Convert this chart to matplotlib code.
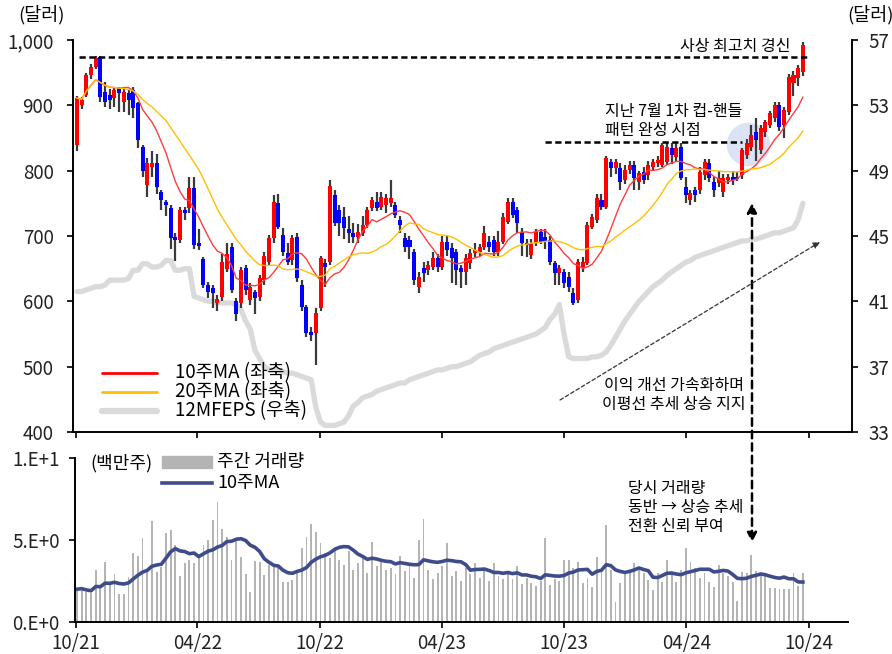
import numpy as np
import pandas as pd
import matplotlib
matplotlib.use('Agg')
import matplotlib.pyplot as plt
import matplotlib.dates as mdates
from matplotlib.patches import ConnectionPatch, Rectangle
from matplotlib.lines import Line2D

plt.rcParams['font.family'] = ['Noto Sans CJK KR', 'DejaVu Sans']
plt.rcParams['axes.unicode_minus'] = False

# weekly price (USD), 10/21 ~ 10/24
open_ = [
    839, 900, 916, 946, 959, 974, 920, 916, 911, 926,
    905, 919, 923, 903, 836, 778, 806, 812, 767, 752,
    743, 699, 694, 740, 743, 773, 690, 665, 625, 620,
    598, 607, 650, 683, 600, 597, 651, 602, 614, 607,
    633, 660, 697, 750, 701, 674, 663, 699, 625, 591,
    553, 551, 590, 659, 660, 763, 740, 729, 711, 705,
    699, 705, 717, 743, 752, 745, 748, 750, 747, 724,
    697, 694, 676, 622, 651, 648, 653, 666, 653, 691,
    682, 676, 651, 645, 659, 674, 675, 683, 691, 694,
    675, 691, 722, 752, 740, 706, 689, 671, 689, 706,
    699, 694, 659, 643, 645, 637, 613, 602, 653, 659,
    714, 724, 755, 745, 813, 804, 804, 786, 801, 809,
    783, 798, 793, 806, 812, 809, 813, 834, 821, 836,
    775, 755, 770, 770, 793, 812, 783, 781, 767, 786,
    790, 790, 793, 824, 836, 859, 832, 859, 870, 880,
    900, 870, 890, 934, 942, 951]

high = [
    915, 912, 950, 963, 975, 976, 935, 925, 928, 928,
    925, 925, 928, 905, 840, 820, 830, 825, 770, 755,
    748, 705, 745, 745, 790, 790, 710, 668, 630, 625,
    610, 672, 690, 690, 605, 652, 655, 628, 618, 640,
    675, 702, 762, 765, 712, 690, 702, 705, 632, 595,
    560, 590, 670, 665, 785, 770, 748, 745, 730, 720,
    718, 730, 745, 760, 768, 768, 765, 785, 752, 730,
    705, 700, 680, 645, 660, 662, 675, 672, 700, 700,
    690, 680, 655, 672, 680, 690, 688, 715, 700, 700,
    708, 735, 758, 758, 745, 712, 695, 695, 710, 710,
    710, 700, 662, 655, 650, 645, 620, 665, 668, 722,
    733, 765, 765, 822, 818, 818, 812, 808, 815, 815,
    800, 805, 815, 818, 822, 842, 842, 842, 842, 842,
    790, 770, 775, 805, 818, 818, 790, 800, 795, 795,
    800, 798, 835, 848, 870, 880, 870, 878, 892, 905,
    905, 898, 948, 952, 962, 997]

low = [
    830, 895, 912, 940, 955, 905, 898, 895, 898, 890,
    890, 885, 880, 835, 790, 760, 790, 765, 740, 730,
    680, 662, 690, 725, 735, 680, 678, 620, 605, 590,
    585, 600, 645, 612, 570, 590, 610, 595, 580, 600,
    625, 655, 690, 710, 670, 655, 655, 630, 585, 545,
    540, 503, 585, 622, 655, 715, 700, 695, 690, 690,
    690, 700, 712, 738, 738, 740, 735, 745, 728, 705,
    675, 665, 625, 612, 630, 640, 648, 645, 648, 670,
    628, 625, 620, 625, 650, 668, 670, 678, 675, 670,
    670, 688, 718, 728, 705, 670, 668, 665, 685, 688,
    680, 655, 625, 625, 620, 615, 595, 598, 645, 655,
    710, 720, 740, 742, 790, 795, 770, 780, 795, 770,
    770, 780, 785, 800, 805, 805, 808, 810, 815, 785,
    750, 748, 752, 765, 785, 782, 760, 775, 760, 780,
    778, 784, 788, 818, 830, 815, 825, 852, 865, 875,
    860, 850, 885, 915, 930, 945]

close = [
    911, 908, 946, 959, 972, 913, 905, 908, 923, 919,
    920, 908, 896, 847, 800, 812, 812, 775, 755, 747,
    697, 694, 740, 735, 773, 686, 685, 625, 614, 612,
    604, 660, 672, 617, 580, 648, 617, 622, 605, 636,
    670, 697, 752, 714, 676, 660, 697, 636, 591, 551,
    548, 582, 666, 653, 776, 720, 720, 712, 705, 699,
    706, 717, 740, 755, 743, 760, 758, 758, 732, 717,
    683, 683, 633, 637, 643, 656, 666, 653, 691, 679,
    666, 648, 645, 666, 674, 679, 683, 705, 683, 675,
    691, 729, 752, 732, 720, 689, 686, 689, 706, 691,
    691, 660, 643, 651, 628, 622, 597, 660, 660, 717,
    729, 758, 745, 819, 804, 813, 783, 801, 809, 789,
    796, 786, 809, 813, 816, 839, 836, 824, 834, 789,
    763, 766, 763, 798, 813, 789, 770, 789, 789, 790,
    786, 788, 832, 842, 855, 847, 865, 874, 888, 900,
    867, 893, 943, 946, 957, 992]

# 12M forward EPS (USD, right axis)
eps = [
    41.6, 41.6, 41.7, 41.8, 41.9, 41.9, 42.0, 42.3, 42.3, 42.3,
    42.3, 42.4, 42.9, 42.9, 43.3, 43.3, 43.1, 43.1, 43.2, 43.5,
    43.5, 42.9, 42.9, 43.0, 43.0, 41.3, 41.2, 41.1, 41.0, 41.0,
    40.9, 40.9, 40.9, 40.9, 40.8, 40.5, 39.8, 39.3, 38.0, 37.5,
    37.0, 36.8, 36.8, 36.7, 36.7, 36.6, 36.6, 36.5, 36.4, 36.3,
    36.2, 34.5, 33.6, 33.4, 33.4, 33.4, 33.5, 33.6, 34.0, 34.6,
    34.8, 35.1, 35.2, 35.3, 35.5, 35.6, 35.7, 35.8, 35.9, 36.0,
    36.0, 36.2, 36.3, 36.4, 36.5, 36.6, 36.7, 36.8, 36.8, 36.9,
    37.0, 37.0, 37.1, 37.2, 37.3, 37.5, 37.7, 37.8, 37.9, 38.1,
    38.2, 38.3, 38.4, 38.5, 38.6, 38.7, 38.8, 38.9, 39.0, 39.2,
    39.4, 39.9, 40.2, 40.8, 39.0, 37.6, 37.5, 37.5, 37.5, 37.5,
    37.6, 37.6, 37.7, 37.9, 38.3, 38.8, 39.3, 39.8, 40.2, 40.6,
    41.0, 41.3, 41.6, 41.9, 42.1, 42.3, 42.6, 42.8, 43.0, 43.2,
    43.4, 43.5, 43.7, 43.8, 43.9, 44.0, 44.1, 44.2, 44.3, 44.4,
    44.5, 44.6, 44.7, 44.7, 44.8, 44.8, 44.9, 45.0, 45.1, 45.2,
    45.2, 45.3, 45.4, 45.5, 46.0, 47.0]

# weekly volume (million shares)
volume = [
    2.0, 2.07, 1.8, 1.75, 3.2, 2.1, 3.65, 2.3, 2.9, 1.7,
    1.7, 2.75, 4.2, 4.0, 5.1, 3.2, 6.15, 3.05, 3.35, 5.4,
    5.6, 4.7, 2.8, 3.6, 3.8, 3.6, 4.0, 4.7, 5.0, 6.2,
    7.3, 5.65, 5.2, 3.8, 5.0, 3.95, 2.9, 1.85, 3.7, 3.65,
    2.85, 3.5, 3.4, 3.3, 2.45, 2.45, 2.55, 3.0, 4.5, 5.2,
    6.0, 5.5, 4.8, 4.2, 3.9, 4.6, 3.8, 3.5, 4.3, 3.2,
    3.6, 4.1, 3.0, 4.9, 3.4, 3.8, 3.2, 3.3, 2.9, 4.0,
    3.1, 3.6, 2.7, 5.0, 6.3, 3.2, 2.6, 3.0, 3.4, 4.8,
    2.8, 3.1, 2.5, 3.3, 2.9, 3.6, 2.7, 3.2, 2.5, 3.6,
    2.8, 2.6, 3.0, 2.6, 3.4, 2.3, 2.7, 2.4, 2.2, 2.5,
    5.1, 2.25, 2.6, 2.5, 3.8, 3.8, 3.3, 3.65, 2.4, 2.7,
    2.15, 3.95, 3.3, 5.9, 3.2, 1.2, 2.4, 3.05, 3.0, 3.6,
    3.35, 3.0, 2.55, 1.95, 3.0, 2.45, 3.8, 3.1, 2.45, 3.2,
    4.5, 3.65, 3.3, 2.7, 3.0, 2.45, 2.15, 3.5, 3.0, 2.8,
    2.45, 1.3, 3.05, 3.0, 4.1, 3.1, 3.0, 3.0, 2.1, 2.05,
    2.0, 2.0, 2.0, 3.0, 2.2, 3.0]

W, H = 892, 654
dates = pd.date_range('2021-10-03', periods=len(close), freq='7D')
x = mdates.date2num(dates)
x0 = x[0]


def px2num(px):
    return x0 + (px - 77) / 4.683 * 7


def val(py):
    return 1000 - (py - 40) / 392 * 600


fig = plt.figure(figsize=(W / 100, H / 100), dpi=100)
ax = fig.add_axes([73 / W, 1 - 432 / H, 779 / W, 392 / H])
axr = ax.twinx()
ax2 = fig.add_axes([75 / W, 1 - 622 / H, 773 / W, 164 / H])

# EPS behind price
axr.plot(x, eps, color='#dadada', lw=3.8, solid_capstyle='round', solid_joinstyle='round')
axr.set_ylim(33, 57)
axr.set_yticks(np.arange(33, 58, 4))
ax.set_zorder(axr.get_zorder() + 1)
ax.patch.set_visible(False)

o = np.array(open_, float)
c = np.array(close, float)
h = np.array(high, float)
l = np.array(low, float)
cols = np.where(c >= o, '#ff0000', '#0000ff')

ax.scatter([px2num(748)], [val(144)], s=980, color='#dde3f7', zorder=1, linewidths=0)
ax.vlines(x, l, h, color='#3a3a3a', lw=1.6, zorder=2)
ax.bar(x, np.maximum(np.abs(c - o), 2.5), bottom=np.minimum(o, c), width=6.0,
       color=cols, linewidth=0, zorder=3)

s = pd.Series(c)
ax.plot(x, s.rolling(10, min_periods=1).mean(), color='#ff3c3c', lw=1, zorder=4)
ax.plot(x, s.rolling(20, min_periods=1).mean(), color='#ffc000', lw=1, zorder=4)

ax.set_ylim(400, 1000)
ax.set_yticks(np.arange(400, 1001, 100))
ax.yaxis.set_major_formatter(matplotlib.ticker.StrMethodFormatter('{x:,.0f}'))
ax.set_xlim(px2num(73), px2num(852))

# volume panel
ax2.bar(x, volume, width=2.8, color='#b4b4b4', linewidth=0)
ax2.plot(x, pd.Series(volume).rolling(10, min_periods=1).mean(), color='#3e4c8c', lw=2.6)
ax2.set_ylim(0, 10)
ax2.set_yticks([0, 5, 10])
ax2.set_yticklabels(['0.E+0', '5.E+0', '1.E+1'])
ax2.set_xlim(px2num(75), px2num(848))

for a in (ax, ax2):
    a.xaxis.set_major_locator(mdates.MonthLocator(bymonth=[4, 10]))
    a.xaxis.set_major_formatter(mdates.DateFormatter('%m/%y'))
    a.spines['top'].set_visible(False)
    a.spines['right'].set_visible(False)
    a.spines['left'].set_linewidth(1.4)
    a.spines['bottom'].set_linewidth(1.4)
    a.tick_params(direction='out', length=4, width=1.4, labelsize=13.5, colors='#222222')
ax.tick_params(axis='y', pad=10)
ax2.tick_params(axis='y', pad=7)
ax2.tick_params(axis='x', pad=4)
ax.tick_params(axis='x', labelbottom=False)
for side in ('top', 'left', 'bottom'):
    axr.spines[side].set_visible(False)
axr.spines['right'].set_linewidth(1.4)
axr.tick_params(direction='out', length=4, width=1.4, labelsize=13.5, pad=8, colors='#222222')

# annotations
dash = (0, (2.5, 1.4))
fs = 11.5
ax.plot([px2num(79), px2num(808)], [974, 974], color='black', lw=1.8, ls=dash, zorder=5)
ax.plot([px2num(545), px2num(742)], [val(142)] * 2, color='black', lw=1.8, ls=dash, zorder=5)
ax.text(px2num(790), val(47), '사상 최고치 경신', ha='right', va='center', fontsize=fs,
        fontweight='medium')
ax.text(px2num(605), val(121), '지난 7월 1차 컵-핸들\n패턴 완성 시점', ha='left', va='center',
        fontsize=fs, linespacing=1.15, fontweight='medium')
ax.text(px2num(674), val(395), '이익 개선 가속화하며\n이평선 추세 상승 지지', ha='center', va='center',
        fontsize=fs, linespacing=1.2, fontweight='medium')
ax.annotate('', xy=(px2num(820), val(242)), xytext=(px2num(560), val(400)),
            arrowprops=dict(arrowstyle='-|>', color='#333333', lw=0.9, linestyle=(0, (3, 2)),
                            mutation_scale=10, shrinkA=0, shrinkB=0),
            annotation_clip=False)
ax2.text(px2num(628), 7.0, '당시 거래량\n동반 → 상승 추세\n전환 신뢰 부여', ha='left', va='center',
         fontsize=fs, linespacing=1.15, fontweight='medium')

con = ConnectionPatch(xyA=(px2num(752), val(203)), coordsA=ax.transData,
                      xyB=(px2num(752), 4.85), coordsB=ax2.transData,
                      arrowstyle='<|-|>', linestyle=(0, (3, 2)), lw=1.8, color='black',
                      mutation_scale=14, shrinkA=0, shrinkB=0)
fig.add_artist(con)

# unit labels
fig.text(18 / W, 1 - 15 / H, '(달러)', fontsize=13.3, ha='left', va='center')
fig.text(847 / W, 1 - 15 / H, '(달러)', fontsize=13.3, ha='left', va='center')

# upper legend
for label, col, lw, yp in [('10주MA (좌축)', '#ff0000', 2, 373),
                           ('20주MA (좌축)', '#ffc000', 2, 392),
                           ('12MFEPS (우축)', '#dadada', 4.5, 411)]:
    fig.add_artist(Line2D([102 / W, 157 / W], [1 - yp / H] * 2, color=col, lw=lw,
                          solid_capstyle='round'))
    fig.text(175 / W, 1 - yp / H, label, fontsize=13.5, ha='left', va='center')

# volume legend
fig.text(90 / W, 1 - 463 / H, '(백만주)', fontsize=13, ha='left', va='center')
fig.add_artist(Rectangle((162 / W, 1 - 468 / H), 50 / W, 12 / H, color='#b4b4b4',
                         transform=fig.transFigure))
fig.text(217 / W, 1 - 462 / H, '주간 거래량', fontsize=13, ha='left', va='center')
fig.add_artist(Line2D([162 / W, 212 / W], [1 - 483 / H] * 2, color='#3e4c8c', lw=2.6))
fig.text(217 / W, 1 - 483 / H, '10주MA', fontsize=13, ha='left', va='center')

fig.savefig('out.png', dpi=100)
